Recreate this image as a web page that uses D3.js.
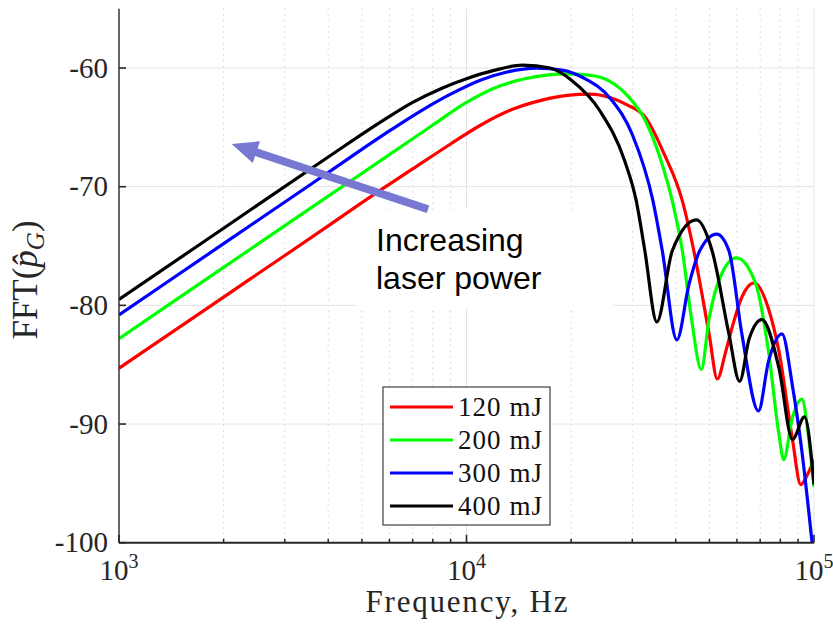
<!DOCTYPE html>
<html>
<head>
<meta charset="utf-8">
<script src="https://cdn.jsdelivr.net/npm/d3@7"></script>
<style>
  body { margin: 0; background: #fff; }
  svg { display: block; }
</style>
</head>
<body>
<svg id="chart" width="833" height="625"></svg>
<script>
// values (frequency in Hz, FFT in dB)
const f120 = [1000, 2000, 3000, 4000, 5200, 7000, 9000, 11000, 13500, 16500, 19500, 22600, 26000, 29000, 32800, 37000, 41800, 45100, 49900, 52700, 55600, 58200, 62000, 67300, 74000, 79300, 86600, 91600, 96000, 100000];
const db120 = [-85.3, -79.3, -75.8, -73.3, -71.0, -68.5, -66.4, -64.8, -63.5, -62.7, -62.3, -62.2, -62.5, -63.1, -64.2, -67.2, -71.2, -75.4, -82.4, -86.2, -84.0, -81.8, -79.3, -78.1, -80.3, -83.9, -91.2, -95.1, -94.2, -93.0];

const f200 = [1000, 2000, 4000, 6000, 8000, 10000, 12000, 14500, 17000, 19400, 22500, 25800, 29000, 32800, 36000, 39100, 41800, 44400, 47400, 49900, 53600, 59800, 68000, 74000, 79300, 81800, 86600, 92300, 96300, 100000];
const db200 = [-82.8, -76.8, -70.8, -67.3, -64.8, -62.9, -61.7, -60.95, -60.6, -60.5, -60.6, -61.1, -62.3, -64.5, -67.5, -71.2, -75.4, -81.1, -85.4, -81.1, -77.7, -76.0, -78.2, -83.9, -90.9, -93.0, -89.5, -87.9, -90.9, -95.3];

const f300 = [1000, 2000, 4000, 6000, 7500, 9000, 11000, 13000, 15900, 19000, 21600, 26000, 30000, 34400, 36600, 40300, 43700, 46900, 52500, 56900, 62000, 69200, 74000, 80900, 86600, 92300, 98500, 100000];
const db300 = [-80.8, -74.8, -68.8, -65.3, -63.5, -62.2, -61.0, -60.35, -60.0, -60.2, -60.8, -62.6, -65.6, -71.2, -75.4, -82.9, -78.2, -75.4, -74.0, -75.4, -82.4, -88.9, -84.7, -82.4, -86.7, -92.3, -99.7, -101.5];

const f400 = [1000, 2000, 4000, 5700, 7000, 8500, 10000, 12000, 14500, 17400, 20000, 24200, 28500, 30800, 32600, 35300, 39100, 45900, 50900, 56900, 61100, 65100, 70800, 79300, 86700, 93900, 100000];
const db400 = [-79.5, -73.5, -67.5, -64.5, -62.9, -61.7, -60.9, -60.2, -59.75, -60.0, -61.0, -63.6, -67.8, -71.2, -75.4, -81.4, -75.4, -72.8, -75.4, -82.4, -86.4, -82.8, -81.2, -85.3, -91.3, -89.4, -95.1];

const seriesLabels = ['120 mJ', '200 mJ', '300 mJ', '400 mJ'];
const seriesColors = ['#ff0000', '#00ff00', '#0000ff', '#000000'];
const yTicks = [-100, -90, -80, -70, -60];
const xTicks = [1e3, 1e4, 1e5];
const xTickExp = ['3', '4', '5'];

const series = [
  { label: seriesLabels[0], color: seriesColors[0], f: f120, v: db120 },
  { label: seriesLabels[1], color: seriesColors[1], f: f200, v: db200 },
  { label: seriesLabels[2], color: seriesColors[2], f: f300, v: db300 },
  { label: seriesLabels[3], color: seriesColors[3], f: f400, v: db400 }
];

const W = 833, H = 625;
const margin = { left: 119, right: 19, top: 8.7, bottom: 82.3 };
const pw = W - margin.left - margin.right;
const ph = H - margin.top - margin.bottom;

const svg = d3.select('#chart');
const serif = "'Liberation Serif', 'Times New Roman', serif";
const axisColor = '#262626';

const x = d3.scaleLog().domain([1e3, 1e5]).range([0, pw]);
const y = d3.scaleLinear().domain([-100, -55]).range([ph, 0]);

const g = svg.append('g').attr('transform', `translate(${margin.left},${margin.top})`);

svg.append('defs').append('clipPath').attr('id', 'plotclip')
  .append('rect').attr('width', pw).attr('height', ph);

// minor vertical grid (dotted)
const minor = [];
[1e3, 1e4].forEach(d => { for (let k = 2; k <= 9; k++) minor.push(d * k); });
g.append('g').selectAll('line').data(minor).join('line')
  .attr('x1', d => x(d)).attr('x2', d => x(d))
  .attr('y1', 0).attr('y2', ph)
  .attr('stroke', '#c8c8c8').attr('stroke-width', 1)
  .attr('stroke-dasharray', '1.2,4.5');

// major grid
g.append('g').selectAll('line').data(xTicks.slice(1)).join('line')
  .attr('x1', d => x(d)).attr('x2', d => x(d))
  .attr('y1', 0).attr('y2', ph)
  .attr('stroke', '#e3e3e3').attr('stroke-width', 1);
g.append('g').selectAll('line').data(yTicks.slice(1)).join('line')
  .attr('x1', 0).attr('x2', pw)
  .attr('y1', d => y(d)).attr('y2', d => y(d))
  .attr('stroke', '#e3e3e3').attr('stroke-width', 1);

// annotation background (hides the grid behind the text)
g.append('rect')
  .attr('x', 356 - margin.left).attr('y', 209 - margin.top)
  .attr('width', 257).attr('height', 100)
  .attr('fill', '#fff');

// curves
const line = d3.line()
  .x(d => x(d[0]))
  .y(d => y(d[1]))
  .curve(d3.curveMonotoneX);

g.append('g').attr('clip-path', 'url(#plotclip)')
  .selectAll('path').data(series).join('path')
  .attr('d', s => line(s.f.map((f, i) => [f, s.v[i]])))
  .attr('fill', 'none')
  .attr('stroke', s => s.color)
  .attr('stroke-width', 3.2)
  .attr('stroke-linejoin', 'round');

// axes lines
g.append('line').attr('x1', 0).attr('x2', 0).attr('y1', 0).attr('y2', ph)
  .attr('stroke', axisColor).attr('stroke-width', 1.4);
g.append('line').attr('x1', 0).attr('x2', pw).attr('y1', ph).attr('y2', ph)
  .attr('stroke', axisColor).attr('stroke-width', 2);

// y ticks + labels
g.append('g').selectAll('line').data(yTicks).join('line')
  .attr('x1', 0).attr('x2', 7)
  .attr('y1', d => y(d)).attr('y2', d => y(d))
  .attr('stroke', axisColor).attr('stroke-width', 1.6);
g.append('g').selectAll('text').data(yTicks).join('text')
  .attr('x', -11).attr('y', d => y(d) + 9.5)
  .attr('text-anchor', 'end')
  .attr('font-family', serif).attr('font-size', 29)
  .attr('fill', axisColor)
  .text(d => d);

// x ticks
g.append('g').selectAll('line').data(minor).join('line')
  .attr('x1', d => x(d)).attr('x2', d => x(d))
  .attr('y1', ph).attr('y2', ph - 4)
  .attr('stroke', axisColor).attr('stroke-width', 1.5);
g.append('g').selectAll('line').data(xTicks).join('line')
  .attr('x1', d => x(d)).attr('x2', d => x(d))
  .attr('y1', ph).attr('y2', ph - 8)
  .attr('stroke', axisColor).attr('stroke-width', 1.6);
const xl = g.append('g').selectAll('text').data(xTicks).join('text')
  .attr('x', d => x(d)).attr('y', ph + 37)
  .attr('text-anchor', 'middle')
  .attr('font-family', serif).attr('font-size', 29)
  .attr('fill', axisColor);
xl.append('tspan').text('10');
xl.append('tspan').attr('dy', -12).attr('font-size', 20).text((d, i) => xTickExp[i]);

// axis titles
svg.append('text')
  .attr('x', margin.left + pw / 2).attr('y', 612)
  .attr('text-anchor', 'middle')
  .attr('font-family', serif).attr('font-size', 31)
  .attr('textLength', 202).attr('lengthAdjust', 'spacing')
  .attr('fill', axisColor)
  .text('Frequency, Hz');

const yl = svg.append('text')
  .attr('transform', 'translate(37,280) rotate(-90)')
  .attr('text-anchor', 'middle')
  .attr('font-family', serif).attr('font-size', 35)
  .attr('fill', axisColor);
yl.append('tspan').text('FFT(');
yl.append('tspan').attr('font-style', 'italic').text('p\u0302');
yl.append('tspan').attr('font-style', 'italic').attr('font-size', 25).attr('dy', 7).text('G');
yl.append('tspan').attr('dy', -7).text(')');

// arrow annotation (in data coordinates)
const arrowTail = [7750, -71.9];
const arrowHead = [2110, -66.4];
const tx = x(arrowTail[0]), ty = y(arrowTail[1]);
const hx = x(arrowHead[0]), hy = y(arrowHead[1]);
const ang = Math.atan2(hy - ty, hx - tx);
const headLen = 26, headHalf = 11.5, shaftHalf = 4;
const ux = Math.cos(ang), uy = Math.sin(ang);
const nx = -uy, ny = ux;
const bx = hx - ux * headLen, by = hy - uy * headLen;
const arrowPts = [
  [tx + nx * shaftHalf, ty + ny * shaftHalf],
  [bx + nx * shaftHalf, by + ny * shaftHalf],
  [bx + nx * headHalf, by + ny * headHalf],
  [hx, hy],
  [bx - nx * headHalf, by - ny * headHalf],
  [bx - nx * shaftHalf, by - ny * shaftHalf],
  [tx - nx * shaftHalf, ty - ny * shaftHalf]
];
g.append('polygon')
  .attr('points', arrowPts.map(p => p.join(',')).join(' '))
  .attr('fill', '#7878d2');

const ann = g.append('text')
  .attr('font-family', "'Liberation Sans', Arial, sans-serif")
  .attr('font-size', 32)
  .attr('fill', '#000');
ann.append('tspan').attr('x', 376 - margin.left).attr('y', 251 - margin.top).text('Increasing');
ann.append('tspan').attr('x', 376 - margin.left).attr('y', 289 - margin.top).text('laser power');

// legend
const lg = svg.append('g').attr('transform', 'translate(383,387)');
lg.append('rect').attr('width', 167).attr('height', 138)
  .attr('fill', '#fff').attr('stroke', '#404040').attr('stroke-width', 1.2);
const rows = lg.selectAll('g').data(series).join('g')
  .attr('transform', (d, i) => `translate(0,${20 + i * 33})`);
rows.append('line').attr('x1', 7).attr('x2', 70)
  .attr('stroke', d => d.color).attr('stroke-width', 3.2);
rows.append('text').attr('x', 75).attr('y', 8.5)
  .attr('font-family', serif).attr('font-size', 27)
  .attr('textLength', 84).attr('lengthAdjust', 'spacing')
  .attr('fill', '#111')
  .text(d => d.label);
</script>
</body>
</html>
